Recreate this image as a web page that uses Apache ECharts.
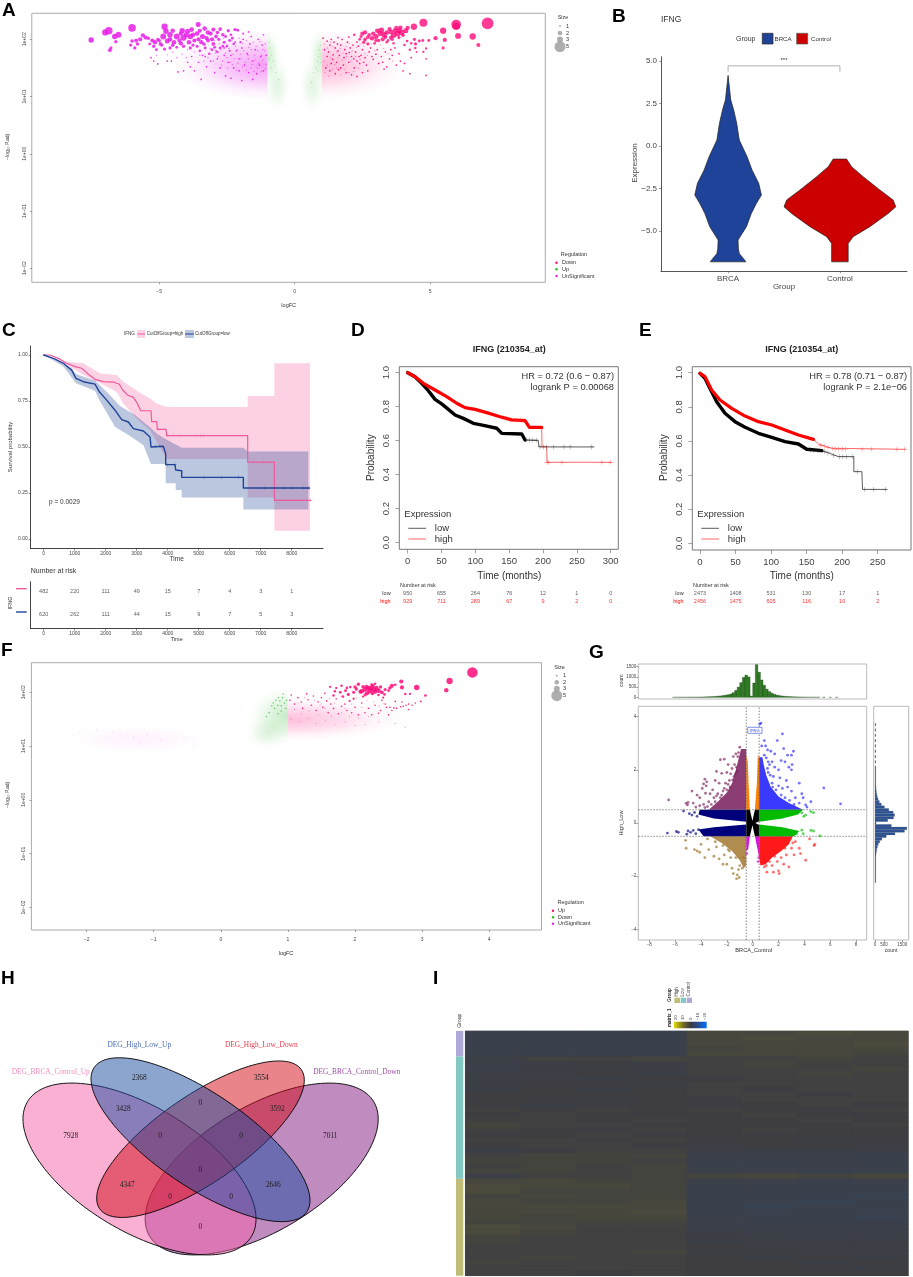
<!DOCTYPE html>
<html>
<head>
<meta charset="utf-8">
<style>html,body{margin:0;padding:0;background:#fff}#main{width:913px;height:1277px}</style>
<script src="https://cdn.jsdelivr.net/npm/echarts@6/dist/echarts.min.js"></script>
</head>
<body>
<div id="main"></div>
<script>
// ---- A: volcano BRCA vs control. y values are log10 of the P.adj axis
const aTicksX = [-5, 0, 5];
const logTicks = [-2, -1, 0, 1, 2];
// x, log10 y, size
const aDownBig = [[7.12,2.28,5.6],[5.96,2.26,4.6],[5.96,2.23,3.6],[4.75,2.29,3.8],[5.48,2.15,3],[6.03,2.06,2.8],[6.57,2.05,3],[4.4,2.22,3],[5.2,2.02,2],[5.54,1.99,2],[6.78,1.9,1.9],[5.48,1.85,1.5],[4.73,1.98,1.4],[4.6,1.97,1.4],[4.42,2,1.5],[4.46,1.92,1.5],[4.17,2.2,2],[4.1,2.15,2.4],[3.9,2.2,2.2],[3.75,2.2,2],[3.95,2.12,2.6],[3.8,2.1,2.8],[3.65,2.07,2.6],[3.55,2.13,2.2],[3.4,2.12,2.2],[3.3,2.08,2.6],[3.15,2.1,2.4],[3.05,2.15,2.2],[3.2,2.16,2.6],[3,2.05,2.4],[2.9,2.1,2],[2.85,2.02,2.2],[3.35,2.04,1.8],[3.55,2.03,1.8],[2.7,2.04,1.8],[2.6,2,1.8],[2.55,1.95,1.6],[2.5,2.1,2.1],[2.6,2.12,2],[2.7,1.92,1.5],[2.4,2,1.3],[2.2,2.08,1.2],[2.95,1.93,1.4],[3.1,1.98,1.6],[3.85,2.03,1.5],[4.15,1.97,1.3],[4.3,1.93,1.2],[4.05,1.9,1.2],[4.45,1.85,1.2],[4.25,1.82,1.2],[4.85,1.84,1.1],[4.75,1.78,1.1],[4.95,1.98,1.4],[3.65,1.93,1.2],[3.45,1.98,1.3],[3.5,2.18,2],[3.7,2.15,2.3],[3.25,2,2],[3,1.98,1.6],[3.85,2.15,2.3],[3.6,2,1.6],[3.4,1.95,1.3],[2.75,2.08,1.7],[2.45,2.05,1.5],[4,2.07,1.7]];
const aDownSmall = [[1.2,1.97],[1.35,2],[1.3,1.9],[1.5,1.85],[1.45,1.95],[1.6,1.8],[1.7,1.9],[1.75,2],[1.85,1.82],[1.9,1.75],[1.95,1.95],[2.05,1.85],[2.1,1.7],[2.15,1.9],[2.25,1.78],[2.3,1.62],[2.35,1.88],[2.45,1.72],[2.5,1.82],[2.6,1.68],[2.65,1.55],[2.75,1.78],[2.8,1.85],[2.9,1.65],[3,1.74],[3.05,1.82],[3.2,1.7],[3.25,1.6],[3.35,1.78],[3.4,1.52],[3.5,1.66],[3.6,1.72],[3.7,1.85],[3.75,1.55],[3.9,1.62],[4,1.45],[4.3,1.68],[4.5,1.78],[4.85,1.66],[1.2,1.7],[1.4,1.65],[1.55,1.6],[1.65,1.72],[1.8,1.55],[2,1.6],[2.2,1.5],[2.4,1.58],[1.15,1.5],[1.3,1.45],[1.5,1.4],[1.7,1.5],[1.9,1.42],[2.1,1.38],[2.3,1.35],[2.7,1.45],[1.1,1.82],[1.25,1.78],[1.42,1.73],[1.58,1.92],[1.82,1.68],[2.02,1.77],[2.18,1.66],[2.38,1.7],[2.55,1.6],[2.85,1.7],[3.1,1.58],[3.3,1.48],[3.55,1.82],[3.85,1.75],[4.05,1.58],[4.25,1.4],[4.85,1.37],[1.05,2.02],[1.6,2.03],[2,2.04],[2.3,1.95],[1.35,1.58],[1.62,1.47],[2.5,1.42]];
const aDownPale = [[1.1,1.92],[1.2,1.85],[1.32,1.95],[1.42,1.87],[1.55,1.78],[1.68,1.84],[1.78,1.76],[1.9,1.87],[2.02,1.93],[2.12,1.8],[2.28,1.86],[2.42,1.92],[2.55,1.88],[2.68,1.72],[2.82,1.92],[2.95,1.8],[3.15,1.9],[3.28,1.84],[3.45,1.75],[3.62,1.62],[1.08,1.62],[1.2,1.55],[1.33,1.68],[1.47,1.56],[1.6,1.68],[1.75,1.63],[1.92,1.7],[2.08,1.62],[2.25,1.7],[2.42,1.65],[2.6,1.75],[1.12,1.42],[1.25,1.36],[1.4,1.48],[1.55,1.5],[1.7,1.38],[1.85,1.48],[2,1.42],[2.18,1.44],[2.35,1.5]];
const aSigBig = [[-7.51,1.99,2.6],[-6.99,2.12,3],[-6.86,2.15,3.6],[-6,2.2,3.6],[-6.64,2.05,2.6],[-6.5,2.08,2.8],[-6.6,1.96,1.6],[-6.82,1.81,1.8],[-6.78,1.85,1.5],[-4.8,2.22,3],[-3.56,2.26,2.4],[-3.32,2.19,2.2],[-4.5,2.15,2.2],[-4.75,2.14,2.6],[-4.15,2.15,2.6],[-3.95,2.14,2.4],[-3.8,2.17,2.2],[-4.85,2.05,2.8],[-4.6,2.08,2.6],[-4.35,2.05,2.8],[-4.1,2.03,3],[-3.85,2.05,2.6],[-3.6,2.1,2.2],[-3.4,2.05,2.4],[-3.1,2.1,2],[-3,2.17,2],[-2.75,2.18,1.8],[-2.45,2.15,1.6],[-2.2,2.17,1.6],[-2.1,2.16,1.4],[-5.6,2.07,2],[-5.5,2.03,2],[-5.7,2,2],[-5.85,1.98,1.9],[-6,1.97,1.7],[-5.8,1.92,1.7],[-6.05,1.9,1.6],[-5.9,1.85,1.6],[-5.25,1.98,2],[-5.15,1.95,2.1],[-5,1.98,1.7],[-5.2,1.88,1.6],[-5.1,1.82,1.4],[-4.9,1.9,1.6],[-4.7,1.97,2.4],[-4.45,1.95,2.2],[-4.2,1.93,2.1],[-3.9,1.95,2.2],[-3.7,1.98,2],[-3.45,1.95,2],[-3.2,1.98,1.8],[-3,1.92,1.8],[-2.8,2,1.6],[-2.6,1.95,1.5],[-2.4,1.98,1.4],[-4.6,1.85,1.5],[-4.8,1.83,1.5],[-4.35,1.86,1.4],[-3.6,1.88,1.5],[-3.3,1.85,1.4],[-3.05,1.82,1.4],[-2.75,1.85,1.3],[-2.5,1.88,1.2],[-2.25,1.92,1.2],[-2,1.95,1.1],[-4.2,2.1,2],[-3.25,2.02,2],[-2.9,2.05,1.8],[-2.55,2.05,1.4],[-3.75,1.9,1.6],[-3.5,1.8,1.3],[-3.15,1.75,1.2],[-2.85,1.78,1.2],[-2.4,1.8,1.1],[-4.95,1.92,1.8],[-4.6,2,2.2],[-4.25,1.98,2],[-4,2.08,2.4],[-3.75,2.08,2.2],[-3.5,2.15,2],[-3.2,2.12,2.2],[-3.05,2,2],[-2.85,2.12,1.7],[-2.65,2.08,1.7],[-2.35,2.08,1.3],[-3.55,2,2],[-3.35,1.92,1.7],[-3.85,1.85,1.5],[-4.1,1.88,1.6],[-4.5,1.9,1.8],[-2.95,1.86,1.4],[-2.65,1.88,1.3],[-2.3,2.02,1.3],[-5.4,2.02,1.6],[-5.05,2,1.6],[-5.35,1.92,1.4],[-1.9,2.1,1],[-1.7,2.13,.9]];
const aSigSmall = [[-5.3,1.68],[-5.2,1.62],[-5.05,1.57],[-4.7,1.62],[-4.55,1.62],[-4.3,1.43],[-4.1,1.45],[-3.95,1.6],[-3.85,1.52],[-3.8,1.7],[-3.7,1.45],[-3.55,1.6],[-3.45,1.3],[-3.4,1.72],[-3.25,1.52],[-3.1,1.62],[-2.95,1.42],[-2.85,1.66],[-2.75,1.5],[-2.6,1.72],[-2.55,1.36],[-2.45,1.6],[-2.35,1.72],[-2.25,1.5],[-2.15,1.8],[-2.05,1.66],[-1.95,1.85],[-1.85,1.55],[-1.75,1.75],[-1.65,1.92],[-1.55,1.62],[-1.45,1.82],[-1.35,2],[-1.3,1.55],[-1.2,1.9],[-1.15,2.08],[-1.05,1.72],[-2.9,1.8],[-3.3,1.7],[-2.2,1.95],[-2.6,1.85],[-1.9,2],[-1.6,2.05],[-2.05,1.45],[-1.7,1.42],[-1.4,1.4],[-1.25,1.7],[-2.35,1.32],[-1.95,1.28],[-1.55,1.3],[-1.15,1.45]];
const aSigPale = [[-2.95,1.98],[-2.78,1.92],[-2.62,2.02],[-2.48,1.9],[-2.32,1.97],[-2.18,1.88],[-2.05,2.02],[-1.92,1.93],[-1.78,1.98],[-1.68,1.86],[-1.52,1.95],[-1.42,1.88],[-1.28,1.96],[-1.18,1.82],[-1.08,1.92],[-3.3,1.9],[-3.12,1.84],[-2.92,1.76],[-2.72,1.82],[-2.55,1.76],[-2.42,1.84],[-2.28,1.74],[-2.12,1.82],[-2,1.74],[-1.88,1.8],[-1.72,1.72],[-1.6,1.82],[-1.48,1.72],[-1.36,1.8],[-1.22,1.72],[-1.1,1.8],[-3.2,1.68],[-3,1.62],[-2.82,1.7],[-2.66,1.62],[-2.5,1.68],[-2.38,1.6],[-2.22,1.66],[-2.1,1.58],[-1.98,1.66],[-1.82,1.6],[-1.7,1.66],[-1.58,1.56],[-1.46,1.64],[-1.32,1.58],[-1.18,1.64],[-1.06,1.56],[-2.7,1.55],[-2.48,1.5],[-2.3,1.56],[-2.15,1.46],[-1.92,1.52],[-1.78,1.46],[-1.62,1.5],[-1.5,1.44],[-1.38,1.5],[-1.22,1.44],[-1.08,1.48],[-4.5,1.78],[-4.15,1.74],[-3.95,1.82],[-3.7,1.78],[-3.5,1.72],[-3.35,1.62],[-4.35,1.68],[-4.7,1.73],[-5.1,1.72],[-4,1.68]];
const aUpDots = [[-.95,1.95],[-.9,1.85],[-.85,1.72],[-.8,1.62],[-.95,1.65],[-.72,1.55],[-.68,1.42],[-.85,1.5],[-.6,1.3],[.95,1.9],[.9,1.82],[.88,1.7],[.84,1.62],[.95,1.6],[.78,1.5],[.7,1.42],[.87,1.45],[.62,1.25]];
// faint density clouds: centre x, centre y, reach in x, reach in y
const aDownCloud = [1,1.55,3.1,.62];
const aSigCloud = [-1,1.55,3.5,.62];
const aUpTopL = [-1,1.7,.5,.5];
const aUpLowL = [-.65,1.2,.5,.5];
const aUpTopR = [1,1.7,.5,.5];
const aUpLowR = [.65,1.2,.5,.5];

// ---- F: volcano High vs Low
const fTicksX = [-2, -1, 0, 1, 2, 3, 4];
const fUpBig = [[3.75,2.37,5],[3.41,2.21,3],[3.36,2.04,2.1],[2.69,2.2,2],[2.7,2.09,2],[2.92,2.09,2.6],[3.05,1.94,1.3],[2.98,1.83,.9],[2.55,2.12,2],[2.82,1.97,1.1],[2.75,1.97,1.2],[2.45,2.05,1.5],[2.38,2.1,1.6],[2.32,2.08,2.1],[2.3,2.01,2],[2.27,2.12,1.6],[2.22,2.03,2.4],[2.2,2.08,2.1],[2.18,1.98,2],[2.15,2.05,2.2],[2.12,2.1,1.7],[2.08,2.01,1.8],[2.05,2.15,1.6],[2.02,2.06,1.6],[1.98,2,1.5],[1.93,2.1,1.2],[1.9,1.96,1.5],[1.86,2.03,1.4],[1.82,1.92,1.3],[1.78,2,1.3],[1.72,2.08,1.1],[1.68,1.94,1.2],[1.63,2.1,1.1],[2.25,2.14,1.4],[2.35,1.95,1.2],[2.42,1.9,1],[2.5,2.03,1.3],[2.6,2.14,1.3],[2.3,2.16,1.2],[1.98,1.88,1.1],[1.92,1.84,1],[2.12,1.92,1.1],[2.1,2.02,2.2],[2.17,2.1,2],[2.24,2.08,2.4],[2.28,2.05,2.4],[2.35,2.03,2.2],[2.26,1.98,1.8],[2.4,2,1.8],[2.44,1.96,1.3],[2,2.1,1.6],[1.88,2.08,1.3],[1.8,2.12,1.2],[1.7,2.02,1.2],[2.52,2.08,1.6],[2.15,1.95,1.4]];
const fUpSmall = [[1.03,1.85],[1.05,1.95],[1.1,1.78],[1.15,1.9],[1.2,1.82],[1.22,1.7],[1.28,1.97],[1.3,1.86],[1.35,1.76],[1.38,1.93],[1.42,1.66],[1.45,1.82],[1.5,1.9],[1.52,1.72],[1.55,1.98],[1.58,1.84],[1.6,1.62],[1.64,1.78],[1.68,1.7],[1.72,1.88],[1.75,1.6],[1.8,1.74],[1.85,1.78],[1.88,1.66],[2,1.72],[2.05,1.58],[2.1,1.8],[2.2,1.7],[2.25,1.58],[2.3,1.76],[2.38,1.66],[2.45,1.78],[2.47,1.72],[2.52,1.72],[2.58,1.71],[2.62,1.7],[2.68,1.73],[2.72,1.74],[2.76,1.76],[2.8,1.78],[2.85,1.76],[2.6,1.83],[2.7,1.82],[2.55,1.66],[2.35,1.61],[2.15,1.62],[1.95,1.62],[2.8,1.68],[2.9,1.8],[2.4,1.85],[2.5,1.58]];
const fUpPale = [[1.15,1.8],[1.25,1.9],[1.4,1.85],[1.48,1.76],[1.62,1.88],[1.7,1.8],[1.78,1.93],[1.85,1.7],[1.95,1.78],[2.03,1.9],[2.1,1.72],[2.18,1.85],[2.28,1.82],[2.36,1.74],[2.42,1.8],[1.1,1.68],[1.2,1.6],[1.32,1.65],[1.45,1.58],[1.55,1.7],[1.65,1.55],[1.8,1.62],[1.92,1.55],[2.05,1.52],[2.2,1.55],[1.05,1.5],[1.18,1.45],[1.3,1.52],[1.42,1.42],[1.56,1.48],[1.7,1.4],[1.85,1.45],[2,1.38],[2.15,1.4],[2.35,1.45],[2.6,1.42],[2.75,1.35]];
const fDownDots = [[.95,1.8],[.92,1.9],[.88,1.84],[.85,1.76],[.82,1.85],[.8,1.7],[.76,1.75],[.9,1.65],[.72,1.62],[.97,1.7],[.93,1.97],[.68,1.55],[.85,1.6],[.9,1.75],[.78,1.8],[.98,1.85],[.86,1.9]];
const fPaleDots = [[-2.1,1.25],[-1.85,1.3],[-1.6,1.27],[-1.5,1.2],[-1.3,1.17],[-1.1,1.22],[-.9,1.12],[-.7,1.07],[-1.7,1.15],[-1.2,1.05],[-.55,1.15],[-.4,1]];
const fUpCloud = [1,1.5,1.75,.42];
const fDownTop = [1,1.55,.6,.55];
const fDownLow = [.68,1.25,.32,.32];
const fSigCloud = [-1.25,1.13,1.15,.28];

// ---- B: violin outline, expression level and half width in group units
const bGroups = ['BRCA', 'Control'];
const bTicksY = [-5, -2.5, 0, 2.5, 5];
const bLevelsBrca = [4.16,2.71,2.12,1.34,.35,-.63,-1.41,-2.2,-2.89,-3.38,-3.97,-4.75,-5.54,-6.03,-6.33,-6.82];
const bWidthBrca = [0,.024,.05,.077,.1,.17,.214,.274,.298,.253,.208,.164,.089,.092,.1,.16];
const bLevelsCtrl = [-.77,-1.22,-1.81,-2.59,-3.18,-3.58,-3.97,-4.75,-5.34,-5.74,-6.33,-6.82];
const bWidthCtrl = [.06,.104,.208,.357,.476,.5,.432,.268,.119,.074,.074,.074];

// ---- C: TCGA survival curves
const cTimes = [0,1000,2000,3000,4000,5000,6000,7000,8000];
const cTicksY = [0,.25,.5,.75,1];
const cHigh = [[0,1],[204,1],[473,.982],[742,.955],[1011,.937],[1226,.928],[1409,.9],[1656,.868],[1925,.855],[2247,.853],[2441,.841],[2548,.81],[2699,.783],[2892,.77],[3022,.737],[3129,.697],[3462,.697],[3484,.638],[3645,.638],[3667,.596],[3946,.596],[3968,.562],[6581,.562],[6581,.418],[7441,.418],[7441,.21],[8613,.21]];
const cLow = [[0,1],[312,.982],[634,.955],[903,.918],[1043,.873],[1280,.855],[1656,.842],[1796,.8],[2032,.755],[2301,.7],[2516,.649],[2731,.636],[2892,.6],[3215,.587],[3430,.554],[3462,.5],[3860,.504],[3935,.464],[3935,.404],[4237,.404],[4258,.375],[4452,.371],[4452,.335],[6441,.335],[6441,.277],[8570,.277]];
const cHighUpper = [[0,1],[742,.964],[1280,.955],[1817,.9],[2355,.891],[2570,.855],[2892,.819],[3108,.795],[3430,.764],[3645,.737],[3968,.717],[6581,.717],[6581,.777],[7441,.777],[7441,.955],[8591,.955]];
const cHighLower = [[0,1],[742,.946],[1280,.891],[1817,.846],[2355,.8],[2570,.737],[2892,.674],[3161,.629],[3430,.592],[3645,.529],[3968,.435],[6581,.435],[6581,.226],[7441,.226],[7441,.045],[8591,.045]];
const cLowUpper = [[0,1],[903,.928],[1043,.897],[1656,.861],[2032,.8],[2462,.723],[2946,.674],[3430,.607],[3645,.574],[3946,.542],[4452,.496],[6441,.496],[6570,.475],[8538,.475]];
const cLowLower = [[0,1],[634,.937],[1043,.846],[1656,.806],[1796,.755],[2301,.61],[2731,.565],[3215,.511],[3462,.408],[3935,.408],[3935,.303],[4258,.303],[4258,.266],[4452,.266],[4452,.225],[6441,.225],[6441,.161],[8538,.161]];
const cHighCensor = [[3700,.596],[4000,.562],[4200,.562],[4400,.562],[4935,.562],[5050,.562],[5150,.562],[7100,.418],[8613,.21]];
const cLowCensor = [[3600,.504],[3750,.504],[4000,.404],[4237,.404],[5172,.335],[5742,.335],[6290,.335],[7118,.277],[7763,.277],[8000,.277],[8376,.277],[8538,.277]];
const cRiskHigh = [482,220,111,49,15,7,4,3,1];
const cRiskLow = [620,262,111,44,15,9,7,5,3];

// ---- D, E: KM plotter curves
const kmTicksY = [0,.2,.4,.6,.8,1];
const dTicksX = [0,50,100,150,200,250,300];
const dLow = [[0,1],[10.8,.976],[20.7,.937],[30.5,.894],[40.4,.843],[50.2,.816],[60.1,.784],[70,.751],[82.3,.731],[97,.702],[112,.69],[131.6,.673],[139,.643],[168.5,.639],[173.4,.604],[193,.6],[194,.563],[275,.563]];
const dHigh = [[0,1],[10.8,.976],[23.2,.937],[40.4,.898],[57.6,.859],[72.4,.82],[84.7,.794],[99.5,.784],[116.7,.765],[136.5,.741],[153.7,.722],[173.4,.718],[179.8,.678],[198,.678],[198.5,.565],[205.4,.565],[205.9,.473],[300,.473]];
const dLowCensor = [[175,.604],[180,.604],[185,.604],[190,.604],[195.6,.563],[201,.563],[205,.563],[215,.563],[231,.563],[240,.563],[272,.563]];
const dHighCensor = [[140,.735],[146,.73],[152,.722],[160,.72],[167,.72],[172,.718],[206,.473],[208,.473],[228,.473],[287,.473],[300,.473]];
const dRiskLow = [950,655,264,76,12,1,0];
const dRiskHigh = [929,711,289,67,9,2,0];
const eTicksX = [0,50,100,150,200,250];
const eLow = [[0,.996],[7,.967],[14.1,.908],[23.5,.83],[35.2,.762],[49.3,.713],[63.4,.68],[82.2,.645],[101,.621],[119.7,.596],[138.5,.582],[150.2,.551],[171.4,.543],[185.4,.523],[194.8,.508],[216.4,.508],[216.4,.42],[227.7,.42],[228.6,.316],[262.9,.316]];
const eHigh = [[0,.996],[7,.977],[16.4,.898],[28.2,.84],[44.6,.791],[63.4,.746],[82.2,.713],[101,.693],[119.7,.664],[138.5,.635],[159.6,.609],[166.6,.582],[185.4,.557],[288.7,.551]];
const eLowCensor = [[155,.548],[160,.546],[166,.544],[175,.538],[180,.53],[188,.515],[196,.508],[201,.508],[206,.508],[214,.508],[221.6,.42],[231,.316],[244,.316],[260.6,.316]];
const eHighCensor = [[170,.575],[175,.57],[180,.563],[186,.555],[190,.553],[195,.553],[200,.552],[205,.552],[228,.552],[241,.552],[277,.551],[288,.551]];
const eRiskLow = [2473,1408,531,130,17,1];
const eRiskHigh = [2456,1475,605,116,10,2];

// ---- G: scatter of the two contrasts with its marginal histograms
const gTicksX = [-8,-6,-4,-2,0,2,4,6,8];
const gTicksY = [-4,-2,0,2,4];
const gTopTicks = [0,500,1000,1500];
const gRightTicks = [0,500,1000,1500];
const gTopBins = [[-6.1,3],[-5.9,3],[-5.7,4],[-5.5,4],[-5.3,5],[-5.1,6],[-4.9,7],[-4.7,8],[-4.5,9],[-4.3,11],[-4.1,13],[-3.9,16],[-3.7,20],[-3.5,25],[-3.3,30],[-3.1,36],[-2.9,45],[-2.7,55],[-2.5,68],[-2.3,85],[-2.1,105],[-1.9,125],[-1.7,160],[-1.5,230],[-1.3,340],[-1.1,500],[-.9,720],[-.7,980],[-.5,1090],[-.3,1000],[-.1,60],[.1,700],[.3,1600],[.5,1230],[.7,850],[.9,590],[1.1,400],[1.3,280],[1.5,200],[1.7,145],[1.9,105],[2.1,80],[2.3,62],[2.5,50],[2.7,40],[2.9,32],[3.1,26],[3.3,22],[3.5,18],[3.7,14],[3.9,11],[4.1,9],[4.3,7],[4.5,6],[4.7,5],[4.9,4],[5.1,3],[5.5,3],[6,2],[6.5,2]];
const gRightBins = [[3.7,4],[3.5,5],[3.3,6],[3.1,7],[2.9,8],[2.7,10],[2.5,12],[2.3,14],[2.1,17],[2,20],[1.9,24],[1.8,28],[1.7,33],[1.6,38],[1.5,44],[1.4,50],[1.3,60],[1.2,75],[1.1,95],[1,125],[.9,170],[.8,240],[.7,350],[.6,520],[.5,760],[.4,1000],[.3,1080],[.2,1020],[.1,700],[0,60],[-.1,900],[-.2,1750],[-.3,1620],[-.4,1100],[-.5,620],[-.6,380],[-.7,260],[-.8,180],[-.9,130],[-1,95],[-1.1,72],[-1.2,55],[-1.3,44],[-1.4,35],[-1.5,28],[-1.6,22],[-1.7,18],[-1.8,14],[-1.9,11],[-2,8],[-2.1,6],[-2.2,4]];
const gMaroonArea = [[-.5,.5],[-3.4,.5],[-2.6,.85],[-2,1.15],[-1.6,1.5],[-1.3,2],[-1.1,2.4],[-.9,2.78],[-.5,2.78]];
const gBlueArea = [[.5,.5],[3.9,.5],[2.8,.75],[2,1],[1.4,1.35],[1.05,1.8],[.85,2.2],[.75,2.47],[.5,2.47]];
const gRedArea = [[.5,-.5],[3.1,-.5],[2.8,-.8],[2.2,-1.05],[1.5,-1.3],[1,-1.55],[.6,-1.6],[.5,-1.3]];
const gBrownArea = [[-.5,-.5],[-3.3,-.5],[-2.4,-.75],[-1.6,-1.05],[-1,-1.4],[-.7,-1.7],[-.5,-1.6]];
const gNavyUpper = [[-.5,.5],[-4.1,.5],[-4.2,.32],[-3,.17],[-.5,.05]];
const gNavyLower = [[-.5,-.06],[-3,-.16],[-4.2,-.24],[-3.8,-.5],[-.5,-.5]];
const gGreenUpper = [[.5,.5],[3.9,.5],[3.5,.32],[2.3,.17],[.5,.05]];
const gGreenLower = [[.5,-.06],[2.3,-.16],[3.6,-.3],[3.2,-.5],[.5,-.5]];
const gBlackArea = [[-.5,.5],[-.22,.5],[-.02,.08],[.17,.5],[.5,.5],[.5,.07],[.2,0],[.5,-.07],[.5,-.5],[.17,-.5],[-.02,-.08],[-.22,-.5],[-.5,-.5],[-.5,.06],[-.3,0],[-.5,-.06]];
const gOrangeLeft = [[-.5,.5],[-.22,.5],[-.32,1.5],[-.38,2.3],[-.5,2.55]];
const gOrangeRight = [[.17,.5],[.5,.5],[.5,2.4],[.4,2.6],[.32,1.5]];
const gMagentaLeft = [[-.5,-.5],[-.22,-.5],[-.35,-1],[-.5,-1.05]];
const gMagentaRight = [[.17,-.5],[.5,-.5],[.5,-1.3],[.38,-1]];
const gMaroon = [[-6.5,.87],[-5.15,.74],[-5.05,.68],[-5,.78],[-4.7,1.2],[-4.3,1.05],[-4.1,.95],[-3.9,1.3],[-3.8,1.47],[-3.7,1.65],[-3.6,1.4],[-3.55,1.55],[-3.65,1.12],[-3.3,1.1],[-3.1,1.25],[-3,.95],[-2.8,1.94],[-2.9,1.6],[-2.5,2.38],[-2.6,1.5],[-2.4,1.87],[-2.2,2.4],[-2.3,1.2],[-2,1.9],[-2.1,1.5],[-1.9,2.2],[-1.8,1.6],[-1.6,2.05],[-1.5,2.5],[-1.4,2.2],[-1.3,2.6],[-1.2,1.95],[-1.1,2.65],[-3.4,.8],[-3.8,.7],[-4.4,.6],[-4.6,.75],[-2.7,1.1],[-2.5,.95],[-2,1.25],[-1.7,1.85],[-1.45,1.75],[-3.5,.62],[-3.2,.7],[-2.9,.8],[-2.8,1.02],[-2.4,1.05],[-2.2,1.3],[-1.9,1.45],[-1.75,1.35],[-1.55,1.62],[-1.35,1.85],[-1.25,2.1],[-1.15,2.5],[-1,2.85],[-4.1,.65],[-3.7,.58]];
const gBlue = [[.64,3.76],[.55,3.72],[.9,3.1],[.7,2.9],[1,2.9],[1.15,2.75],[1.4,2.7],[1.7,2.6],[1.9,3.1],[2.3,3.35],[2.4,2.8],[2.7,2.55],[3,2.55],[3.15,2.7],[3.05,2.2],[3,2],[2.8,2.1],[2.5,2.3],[2.2,2.35],[2,2],[1.7,2.1],[1.5,2.3],[1.3,2.2],[1.2,1.9],[1.6,1.75],[2.1,1.7],[2.6,1.6],[2.7,1.35],[3.6,1.5],[3.8,1.1],[3.9,.95],[4.2,.6],[4.5,.8],[5.5,1.32],[6.8,.72],[4.1,.68],[3.3,.95],[3,1.2],[2.3,1.3],[2,1.4],[3.6,.75],[3.2,.7],[1.05,2.45],[.9,2.55],[1.2,2.3],[1.35,1.8],[1.5,1.5],[1.8,1.25],[2.2,1.05],[2.5,.95],[2.85,.85],[1.15,2.05],[1.55,1.35]];
const gNavy = [[-6.6,-.38],[-5.9,-.32],[-5.75,-.35],[-5.35,.45],[-4.9,.35],[-4.7,.3],[-4.5,.4],[-4.3,.25],[-5,-.3],[-4.8,-.35],[-4.6,-.28],[-4.4,-.4],[-4.2,-.25],[-5.1,-.42]];
const gGreen = [[5.2,-.48],[4.7,-.3],[4.5,-.28],[4.5,.43],[4.7,.39],[3.8,.38],[3.95,.25],[3.8,-.27],[3.4,-.4],[4.1,.3],[3.9,-.4]];
const gBrown = [[-5.2,-.65],[-5.15,-.95],[-4.5,-1],[-4.3,-1.05],[-4.1,-1.1],[-4,-.8],[-3.7,-1.3],[-3.4,-1],[-3,-1.25],[-2.8,-.9],[-2.6,-1.35],[-2.3,-1.55],[-2.2,-1.2],[-2,-1.55],[-1.9,-1],[-1.7,-1.3],[-1.6,-1.7],[-1.5,-1.9],[-1.25,-2.1],[-1.2,-1.95],[-1.05,-2.05],[-1.1,-1.75],[-1,-1.6],[-.8,-1.7],[-.7,-1.3],[-3.5,-.6],[-2.9,-.7],[-2.3,-.85],[-1.8,-1.05],[-1.3,-1.3]];
const gRed = [[4.8,-.8],[4.75,-.85],[4.4,-.6],[4.1,-1.4],[3.7,-1.15],[3.6,-.95],[3.2,-1.2],[3.1,-.75],[2.8,-1.65],[2.6,-1.2],[2.4,-1.55],[2,-1.8],[2.05,-1.9],[1.6,-1.85],[1.9,-1.45],[1.5,-1.6],[1.1,-1.85],[1.05,-1.6],[.9,-1.65],[2.2,-1.3],[3,-.95],[2.5,-.95],[1.7,-1.25],[1.3,-1.45],[2.9,-.6],[3.3,-.7]];
const gMagenta = [[-.45,-1.15],[.42,-1.45],[.46,-1.3]];

// ---- H: Venn counts
const vennSets = ['DEG_BRCA_Control_Up','DEG_High_Low_Up','DEG_High_Low_Down','DEG_BRCA_Control_Down'];
const vennCounts = [7928,2368,3554,7011,3428,0,3592,0,0,4347,0,2646,0,0,0];

// ---- I: heat map, rows top to bottom, four left and four right column blocks
const iGroups = ['Control','Low','High'];
const iGroupRows = [5,24,19];
const iMatrix = [
[-1.2,-1.2,-1.2,-1.2,1.2,1.2,1.6,1.2],[-1.2,-1.2,-.8,-1.2,1.2,1.6,1.2,1.2],[-1.2,-.8,-1.2,-1.2,1.2,1.2,1.2,1.6],[-1.2,-1.2,-1.2,-.8,.8,1.2,1.2,1.2],[-.8,-1.2,-.8,-1.2,1.2,1.2,1.2,.8],
[-.4,.4,.4,.8,.4,.4,.8,.4],[-.8,-.4,0,-.4,.4,.8,.4,.4],[-.8,-.4,-.4,-.4,.4,.4,.4,.8],[-.4,-.4,0,-.4,.4,.4,.8,.4],[-.4,-.4,-.4,0,0,.4,.4,.4],
[-.4,0,0,-.4,.4,.4,.4,.4],[-.4,0,-.4,0,.4,0,.4,.4],[0,0,0,0,.4,.4,0,.4],[0,0,-.4,0,0,.4,.4,.4],[0,-.4,0,0,0,0,.4,0],
[.4,0,.4,0,.4,0,0,.4],[0,.4,0,0,0,.4,0,0],[.4,.4,0,.4,0,0,.4,0],[.8,.4,.4,0,0,0,0,.4],[.4,0,0,.4,0,.4,0,0],
[0,0,.4,0,0,0,0,0],[.4,.4,0,.4,0,0,-.4,0],[0,.4,.4,0,-.4,0,0,-.4],[-.4,0,.4,.4,-.4,-.4,-.4,-.4],[.4,.8,.8,.8,-.8,-.8,-.8,-1.2],
[.8,.8,.8,.4,-.8,-1.2,-.8,-1.2],[.4,.8,.4,.8,-1.2,-.8,-.8,-.8],[.8,.8,.4,.8,-.8,-.8,-1.2,-1.2],[-.4,.4,.4,.8,.8,1.2,.8,1.2],
[1.2,1.2,.8,.8,-.8,-.8,-1.2,-.8],[1.6,1.2,1.2,.8,-1.2,-.8,-.8,-1.2],[1.6,.8,.8,.8,-1.2,-1.2,-1.2,-1.2],[.8,1.2,.8,.8,-1.2,-1.2,-1.2,-1.6],[1.2,.8,.8,1.2,-1.2,-1.2,-1.6,-1.2],
[1.2,1.2,1.2,1.2,-1.2,-1.6,-1.2,-1.2],[1.2,1.2,1.2,1.6,-1.2,-1.2,-1.2,-1.2],[1.2,.8,1.2,1.2,-.8,-1.2,-1.2,-1.6],[.8,.8,.8,.8,-.8,-.8,-1.2,-1.2],[1.6,1.2,.4,.4,-.8,-.8,-.8,-.8],
[1.6,.8,.4,.4,-.4,-.8,-.8,-.4],[.8,.4,.4,.4,-.4,-.4,-.8,-.8],[.8,.4,.4,.4,-.4,-.4,-.4,-.4],[.4,.4,.4,.4,0,-.4,-.4,-.4],[.4,.4,.4,.8,-.4,0,-.4,-.4],
[.4,.8,.4,.4,0,-.4,0,-.4],[.8,.4,.4,.4,0,0,-.4,0],[.4,.4,.4,.4,0,0,0,-.4],[.4,.4,0,.4,0,0,0,0]
];

// ---- plumbing
const sans = '"Liberation Sans", Arial, sans-serif';
const serif = '"Liberation Serif", serif';
const grids = [], xAxes = [], yAxes = [], series = [], gfx = [];

function label(x, y, s, o = {}) {
  const align = o.align || 'center';
  gfx.push({type: 'text', x: x, y: y, rotation: o.rot ? Math.PI / 2 : 0, z: 100, silent: true,
    style: {text: s, fill: o.color || '#333', font: (o.weight || 'normal') + ' ' + (o.size || 5.5) + 'px ' + (o.family || sans),
      align: align, textAlign: align, verticalAlign: 'middle', textVerticalAlign: 'middle'}});
}
function dot(x, y, r, color) {
  gfx.push({type: 'circle', z: 99, silent: true, shape: {cx: x, cy: y, r: r}, style: {fill: color}});
}
function box(x0, y0, x1, y1, fill, stroke) {
  gfx.push({type: 'rect', z: 98, silent: true, shape: {x: x0, y: y0, width: x1 - x0, height: y1 - y0}, style: {fill: fill, stroke: stroke || null, lineWidth: stroke ? .7 : 0}});
}
function seg(x0, y0, x1, y1, color, w) {
  gfx.push({type: 'line', z: 99, silent: true, shape: {x1: x0, y1: y0, x2: x1, y2: y1}, style: {stroke: color, lineWidth: w || 1}});
}
function addGrid(x0, y0, x1, y1, frame, frameWidth, background) {
  grids.push({left: x0, top: y0, width: x1 - x0, height: y1 - y0, show: !!frame, borderColor: frame || 'transparent', borderWidth: frameWidth || 1, backgroundColor: background || 'transparent'});
  return grids.length - 1;
}
function valueAxis(g, min, max, ticks, o = {}) {
  return {type: 'value', gridIndex: g, min: min, max: max, inverse: !!o.inverse, splitLine: {show: false},
    axisLine: {show: !!o.line, onZero: false, lineStyle: {color: o.line, width: o.lineWidth || 1}},
    axisTick: {show: !!ticks, customValues: ticks || [], length: o.tickLen || 2, lineStyle: {color: o.tickColor || '#666', width: o.tickWidth || .6}},
    axisLabel: {show: !!ticks && !o.noLabel, customValues: ticks || [], fontSize: o.size || 5, color: o.color || '#444', fontFamily: sans,
      margin: o.margin || 3, rotate: o.rot || 0, showMinLabel: true, showMaxLabel: true, formatter: o.fmt || (v => String(v).replace('-', '−'))}};
}
function polygon(g, pts, fill, extra) {
  series.push({type: 'custom', xAxisIndex: g, yAxisIndex: g, silent: true, data: [0], z: (extra && extra.z) || 2,
    renderItem: (p, api) => ({type: 'polygon', shape: {points: pts.map(q => api.coord(q))},
      style: Object.assign({fill: fill}, extra && extra.style)})});
}
// soft elliptical density patch, cut off on one side where the threshold line sits (side 0 keeps it whole)
function cloud(g, c, side, rgb, alpha) {
  const x0 = side > 0 ? 0 : -100, x1 = side < 0 ? 0 : 100;
  const fill = new echarts.graphic.RadialGradient(0, 0, 100, [
    {offset: 0, color: 'rgba(' + rgb + ',' + alpha + ')'},
    {offset: .45, color: 'rgba(' + rgb + ',' + alpha * .55 + ')'},
    {offset: .75, color: 'rgba(' + rgb + ',' + alpha * .15 + ')'},
    {offset: 1, color: 'rgba(' + rgb + ',0)'}], true);
  series.push({type: 'custom', xAxisIndex: g, yAxisIndex: g, silent: true, data: [0], z: 2,
    renderItem: (p, api) => {
      const o = api.coord([c[0], c[1]]), e = api.coord([c[0] + c[2], c[1] + c[3]]);
      return {type: 'polygon', x: o[0], y: o[1], scaleX: (e[0] - o[0]) / 100, scaleY: (o[1] - e[1]) / 100,
        shape: {points: [[x0, -100], [x1, -100], [x1, 100], [x0, 100]]}, style: {fill: fill}};
    }});
}
function dots(g, data, color, size, opacity) {
  series.push({type: 'scatter', xAxisIndex: g, yAxisIndex: g, data: data, silent: true, z: 3,
    symbolSize: size, itemStyle: {color: color, opacity: opacity == null ? 1 : opacity}});
}
function curve(g, data, color, width) {
  series.push({type: 'line', xAxisIndex: g, yAxisIndex: g, data: data, showSymbol: false, silent: true, z: 4,
    lineStyle: {color: color, width: width, cap: 'round', join: 'round'}});
}
const plusMark = 'path://M5.6 0H6.4V12H5.6ZM0 5.6H12V6.4H0Z';
function censor(g, data, color, size) {
  series.push({type: 'scatter', xAxisIndex: g, yAxisIndex: g, data: data, silent: true, z: 5, symbol: plusMark, symbolSize: size || 6, itemStyle: {color: color}});
}
function riskTable(g, times, rows, colors, size) {
  rows.forEach((row, r) => {
    series.push({type: 'scatter', xAxisIndex: g, yAxisIndex: g, silent: true, z: 5, symbolSize: 1, itemStyle: {color: 'rgba(0,0,0,0)'},
      data: row.map((n, i) => [times[i], r, n]),
      label: {show: true, position: 'inside', formatter: p => String(p.value[2]), fontSize: size, color: colors[r], fontFamily: sans}});
  });
}
function expTick(v) { return '1e' + (v < 0 ? '−' : '+') + '0' + Math.abs(v); }
const volcSize = d => d[2] * 2.1;

// ---- panel A
const gA = addGrid(31.8, 13.3, 545.3, 282.3, '#aaa');
xAxes.push(valueAxis(gA, -9.7, 9.25, aTicksX, {margin: 7}));
yAxes.push(valueAxis(gA, -2.245, 2.455, logTicks, {rot: 90, fmt: expTick, margin: 5}));
cloud(gA, aSigCloud, -1, '235,60,235', .5);
cloud(gA, aDownCloud, 1, '255,40,140', .34);
cloud(gA, aUpTopL, 1, '70,190,70', .26);
cloud(gA, aUpLowL, 0, '70,190,70', .16);
cloud(gA, aUpTopR, -1, '70,190,70', .26);
cloud(gA, aUpLowR, 0, '70,190,70', .16);
dots(gA, aUpDots, '#5ec85e', 1.2, .5);
dots(gA, aSigPale, '#ee44ee', 1.6, .6);
dots(gA, aSigSmall, '#e61ee6', 1.7, .9);
dots(gA, aSigBig, '#e61ee6', volcSize, .85);
dots(gA, aDownPale, '#ff3d95', 1.4, .55);
dots(gA, aDownSmall, '#ff0a7a', 1.7, .9);
dots(gA, aDownBig, '#ff0a7a', volcSize, .8);
label(294.7 - 6, 305, 'logFC', {size: 5.5});
label(8, 147, '−log₁₀ P.adj', {rot: 1, size: 5});
function sizeLegend(xc, xl, xt, ys, yTitle) {
  label(xt, yTitle, 'Size', {size: 5.5});
  [1, 2.3, 3, 5.5].forEach((r, i) => dot(xc, ys[i], r, 'rgba(160,160,160,.85)'));
  ['1', '2', '3', '5'].forEach((s, i) => label(xl, ys[i], s, {size: 5.5, align: 'left'}));
}
function regLegend(xc, xl, xt, ys, yTitle, names, colors) {
  label(xt, yTitle, 'Regulation', {size: 5.5});
  names.forEach((s, i) => { dot(xc, ys[i], 1.2, colors[i]); label(xl, ys[i], s, {size: 5.5, align: 'left'}); });
}
sizeLegend(560, 566, 563, [26, 33, 39.5, 46.7], 17.7);
regLegend(556.5, 562, 574, [262.7, 269.3, 276], 254, ['Down', 'Up', 'UnSignificant'], ['#ff0a7a', '#1fc21f', '#e61ee6']);
label(2, 10.5, 'A', {size: 19, weight: 'bold', align: 'left', color: '#000'});

// ---- panel B
const gB = addGrid(661, 56.7, 907, 271.3);
xAxes.push(valueAxis(gB, .4, 2.6, [1, 2], {line: '#555', size: 8, margin: 3, tickLen: 2, color: '#444', fmt: v => bGroups[v - 1]}));
yAxes.push(valueAxis(gB, -7.38, 5.26, bTicksY, {line: '#555', size: 8, margin: 4, tickLen: 2, color: '#444', fmt: v => v.toFixed(1).replace('-', '−')}));
function violin(center, levels, widths, fill) {
  const outline = levels.map((v, i) => [center - widths[i], v]).concat(levels.map((v, i) => [center + widths[i], v]).reverse());
  polygon(gB, outline, fill, {style: {stroke: '#222', lineWidth: .7}});
}
violin(1, bLevelsBrca, bWidthBrca, '#1f4398');
violin(2, bLevelsCtrl, bWidthCtrl, '#cc0000');
curve(gB, [[1, 4.4], [1, 4.72], [2, 4.72], [2, 4.4]], '#999', .8);
label(784, 60, '***', {size: 6});
label(661, 20, 'IFNG', {size: 8.5, align: 'left'});
label(736, 39, 'Group', {size: 7, align: 'left'});
box(762.3, 33.3, 773, 44, '#1f4398', '#222');
label(774.5, 38.8, 'BRCA', {size: 6.2, align: 'left'});
box(796.7, 33.3, 807.7, 44, '#cc0000', '#555');
label(811, 38.8, 'Control', {size: 6.2, align: 'left'});
label(784, 287, 'Group', {size: 8, color: '#444'});
label(635, 163, 'Expression', {rot: 1, size: 8, color: '#444'});
label(612, 17, 'B', {size: 19, weight: 'bold', align: 'left', color: '#000'});

// ---- panel C
const gC = addGrid(30.7, 346, 323, 548.7);
xAxes.push(valueAxis(gC, -419, 9010, cTimes, {line: '#444', tickColor: '#444', margin: 2, size: 5}));
yAxes.push(valueAxis(gC, -.0527, 1.049, cTicksY, {line: '#444', tickColor: '#444', margin: 3, size: 5, fmt: v => v.toFixed(2)}));
polygon(gC, cHighUpper.concat(cHighLower.slice().reverse()), 'rgba(240,90,155,.28)');
polygon(gC, cLowUpper.concat(cLowLower.slice().reverse()), 'rgba(30,70,150,.30)');
curve(gC, cHigh, '#ee5a9c', 1.2);
curve(gC, cLow, '#1f4398', 1.4);
censor(gC, cHighCensor, '#ee5a9c', 4);
censor(gC, cLowCensor, '#1f4398', 4);
label(176.7, 559.3, 'Time', {size: 6.5});
label(10, 447, 'Survival probability', {rot: 1, size: 6});
label(49, 502.7, 'p = 0.0029', {size: 6.5, align: 'left'});
label(124, 334, 'IFNG', {size: 4.5, align: 'left'});
box(137.3, 330, 145, 338, 'rgba(240,90,155,.28)');
seg(137.3, 334, 145, 334, '#ee5a9c', 1);
label(146.7, 334, 'CutOffGroup=high', {size: 4.5, align: 'left'});
box(185, 330, 194, 338, 'rgba(30,70,150,.30)');
seg(185, 334, 194, 334, '#1f4398', 1);
label(195, 334, 'CutOffGroup=low', {size: 4.5, align: 'left'});
label(2, 330.5, 'C', {size: 19, weight: 'bold', align: 'left', color: '#000'});
// at-risk table under C
const gCr = addGrid(30.7, 581.7, 323, 628.7);
xAxes.push(valueAxis(gCr, -419, 9010, cTimes, {line: '#444', tickColor: '#444', margin: 2, size: 5}));
yAxes.push(valueAxis(gCr, -.43, 1.59, null, {line: '#444', inverse: true}));
riskTable(gCr, cTimes, [cRiskHigh, cRiskLow], ['#333', '#333'], 5.5);
label(30.7, 571, 'Number at risk', {size: 7, align: 'left'});
seg(16, 588.7, 26.7, 588.7, '#ee5a9c', 1.4);
seg(16, 612, 26.7, 612, '#1f4398', 1.4);
label(10, 603, 'IFNG', {rot: 1, size: 5.5});
label(176.7, 639.3, 'Time', {size: 5.5});

// ---- panels D and E share their layout
function kmPanel(o) {
  const g = addGrid(o.x0, 366.7, o.x1, o.y1, '#777');
  const axisOpt = {tickColor: '#666', tickLen: 4, size: 9.5, color: '#444', margin: 7};
  xAxes.push(valueAxis(g, o.xr[0], o.xr[1], o.ticks, axisOpt));
  yAxes.push(valueAxis(g, -.039, 1.035, kmTicksY, Object.assign({}, axisOpt, {rot: 90, fmt: v => v.toFixed(1), margin: 7.5})));
  curve(g, o.low, '#333', .8);
  curve(g, o.low.slice(0, o.lowHeavy), '#000', 3.4);
  censor(g, o.lowCensor, '#333', 5);
  curve(g, o.high, '#ff4040', .8);
  curve(g, o.high.slice(0, o.highHeavy), '#ff0000', 3.2);
  censor(g, o.highCensor, '#ff3030', 5);
  const gr = addGrid(o.x0, 589.1, o.x1, 605.9);
  xAxes.push(valueAxis(gr, o.xr[0], o.xr[1], null));
  yAxes.push(valueAxis(gr, -.5, 1.5, null, {inverse: true}));
  riskTable(gr, o.ticks, [o.riskLow, o.riskHigh], ['#333', '#f00'], 5.5);
  label(o.titleX, 350, 'IFNG (210354_at)', {size: 9, weight: 'bold', color: '#222'});
  label(o.hrX, 376, o.hr, {size: 9.3, align: 'right', color: '#333'});
  label(o.hrX, 387.7, o.logrank, {size: 9.3, align: 'right', color: '#333'});
  label(o.titleX, 576.7, 'Time (months)', {size: 10, color: '#333'});
  label(o.probX, 457.7, 'Probability', {rot: 1, size: 10, color: '#333'});
  label(o.x0 + 5, 514.7, 'Expression', {size: 9.5, align: 'left', color: '#333'});
  seg(o.x0 + 9, 528.3, o.x0 + 26.7, 528.3, '#333', .8);
  label(o.x0 + 35.5, 528.7, 'low', {size: 9.5, align: 'left', color: '#333'});
  seg(o.x0 + 9, 539, o.x0 + 26.7, 539, '#ff4040', .8);
  label(o.x0 + 35.5, 539.2, 'high', {size: 9.5, align: 'left', color: '#333'});
  label(o.x0 + .7, 585.7, 'Number at risk', {size: 5.5, align: 'left'});
  label(o.x0 - 8.7, 593.3, 'low', {size: 5.5, align: 'right'});
  label(o.x0 - 8.7, 601.7, 'high', {size: 5.5, align: 'right', color: '#f00'});
}
kmPanel({x0: 399.3, x1: 618.3, y1: 549.3, xr: [-12.4, 311.2], ticks: dTicksX, low: dLow, high: dHigh, lowHeavy: 15, highHeavy: 14,
  lowCensor: dLowCensor, highCensor: dHighCensor, riskLow: dRiskLow, riskHigh: dRiskHigh, titleX: 509.3, hrX: 614, probX: 371,
  hr: 'HR = 0.72 (0.6 − 0.87)', logrank: 'logrank P = 0.00068'});
label(351, 331, 'D', {size: 19, weight: 'bold', align: 'left', color: '#000'});
kmPanel({x0: 692.3, x1: 911, y1: 550, xr: [-10.8, 296.8], ticks: eTicksX, low: eLow, high: eHigh, lowHeavy: 13, highHeavy: 11,
  lowCensor: eLowCensor, highCensor: eHighCensor, riskLow: eRiskLow, riskHigh: eRiskHigh, titleX: 801.7, hrX: 907, probX: 664.3,
  hr: 'HR = 0.78 (0.71 − 0.87)', logrank: 'logrank P = 2.1e−06'});
label(639, 331, 'E', {size: 19, weight: 'bold', align: 'left', color: '#000'});

// ---- panel F
const gF = addGrid(31.4, 662.7, 541.5, 930, '#aaa');
xAxes.push(valueAxis(gF, -2.823, 4.78, fTicksX, {margin: 7}));
yAxes.push(valueAxis(gF, -2.42, 2.55, logTicks, {rot: 90, fmt: expTick, margin: 5}));
cloud(gF, fSigCloud, 0, '235,60,235', .07);
cloud(gF, fDownTop, -1, '70,190,70', .3);
cloud(gF, fDownLow, 0, '70,190,70', .16);
cloud(gF, fUpCloud, 1, '255,40,140', .3);
dots(gF, fPaleDots, '#f0a8f0', 1.3, .5);
dots(gF, fDownDots, '#3cc03c', 1.5, .8);
dots(gF, fUpPale, '#ff4aa0', 1.3, .5);
dots(gF, fUpSmall, '#ff0a7a', 1.6, .9);
dots(gF, fUpBig, '#ff0a7a', volcSize, .85);
label(286, 953, 'logFC', {size: 5.5});
label(8, 795, '−log₁₀ P.adj', {rot: 1, size: 5});
sizeLegend(556.8, 563, 559.5, [675.7, 682.3, 688.7, 695.7], 667);
regLegend(553, 558, 570.6, [910.7, 917.3, 923.7], 902.3, ['Up', 'Down', 'UnSignificant'], ['#ff0a7a', '#1fc21f', '#e61ee6']);
label(1, 650.5, 'F', {size: 19, weight: 'bold', align: 'left', color: '#000'});

// ---- panel G
const gTop = addGrid(638.3, 664, 866.7, 699, '#bbb');
xAxes.push(valueAxis(gTop, -8.85, 8.82, null));
yAxes.push(valueAxis(gTop, -83, 1632, gTopTicks, {size: 4.5, margin: 2}));
const gMain = addGrid(638.3, 706.3, 866.7, 940, '#bbb');
xAxes.push(valueAxis(gMain, -8.85, 8.82, gTicksX, {size: 4.5, margin: 2}));
yAxes.push(valueAxis(gMain, -4.4, 4.39, gTicksY, {size: 4.5, margin: 2}));
const gSide = addGrid(873.7, 706.3, 908.7, 940, '#bbb');
xAxes.push(valueAxis(gSide, -71, 1851, gRightTicks, {size: 4.5, margin: 2, fmt: v => String(v)}));
yAxes.push(valueAxis(gSide, -4.4, 4.39, null));
series.push({type: 'custom', xAxisIndex: gTop, yAxisIndex: gTop, silent: true, data: gTopBins, z: 3,
  renderItem: (p, api) => {
    const a = api.coord([api.value(0) - .1, api.value(1)]), b = api.coord([api.value(0) + .1, 0]);
    return {type: 'rect', shape: {x: a[0], y: a[1], width: b[0] - a[0], height: b[1] - a[1]}, style: {fill: '#2d7a22', stroke: '#173f12', lineWidth: .3}};
  }});
series.push({type: 'custom', xAxisIndex: gSide, yAxisIndex: gSide, silent: true, data: gRightBins, z: 3,
  renderItem: (p, api) => {
    const a = api.coord([0, api.value(0) + .05]), b = api.coord([api.value(1), api.value(0) - .05]);
    return {type: 'rect', shape: {x: a[0], y: a[1], width: Math.max(b[0] - a[0], .8), height: b[1] - a[1]}, style: {fill: '#2a5192', stroke: '#777', lineWidth: .2}};
  }});
polygon(gMain, gMaroonArea, 'rgba(115,20,85,.82)');
polygon(gMain, gBlueArea, 'rgba(30,30,255,.88)');
polygon(gMain, gRedArea, 'rgba(255,0,0,.9)');
polygon(gMain, gBrownArea, 'rgba(160,115,40,.82)');
polygon(gMain, gOrangeLeft, '#ff8000');
polygon(gMain, gOrangeRight, '#ff8000');
polygon(gMain, gMagentaLeft, '#e010e0');
polygon(gMain, gMagentaRight, '#e010e0');
polygon(gMain, gNavyUpper, '#00007d');
polygon(gMain, gNavyLower, '#00007d');
polygon(gMain, gGreenUpper, '#00bb00');
polygon(gMain, gGreenLower, '#00bb00');
polygon(gMain, gBlackArea, '#000');
dots(gMain, gMaroon, '#7a1f5e', 2.8, .65);
dots(gMain, gBlue, '#2a2aff', 2.8, .65);
dots(gMain, gNavy, '#10108a', 2.8, .7);
dots(gMain, gGreen, '#10c010', 2.8, .7);
dots(gMain, gBrown, '#a07830', 2.8, .7);
dots(gMain, gRed, '#ff2020', 2.8, .65);
dots(gMain, gMagenta, '#e010e0', 2.8, .7);
[-.5, .5].forEach(v => {
  series.push({type: 'line', xAxisIndex: gMain, yAxisIndex: gMain, data: [[v, -4.4], [v, 4.39]], showSymbol: false, silent: true, z: 6, lineStyle: {color: '#555', width: .7, type: [1.5, 1.5]}});
  series.push({type: 'line', xAxisIndex: gMain, yAxisIndex: gMain, data: [[-8.85, v], [8.82, v]], showSymbol: false, silent: true, z: 6, lineStyle: {color: '#555', width: .7, type: [1.5, 1.5]}});
});
box(747.7, 727.3, 762, 733.3, '#fff', '#4a5fe0');
label(754.8, 730.4, 'IFNG', {size: 4, color: '#3048e0'});
label(753.7, 950.3, 'BRCA_Control', {size: 5.6});
label(621.7, 823, 'High_Low', {rot: 1, size: 5.6});
label(621.7, 680.7, 'count', {rot: 1, size: 5.2});
label(891, 950.3, 'count', {size: 5.2});
label(589, 652.7, 'G', {size: 19, weight: 'bold', align: 'left', color: '#000'});

// ---- panel H, painted purple, pink, red, blue as the overlaps in the picture show
const vennShapes = [
  {c: [261.7, 1169], a: 130.7, b: 62.3, deg: -31, fill: 'rgba(129,25,129,.5)'},
  {c: [139.5, 1169], a: 130.7, b: 62.3, deg: 31, fill: 'rgba(243,97,167,.5)'},
  {c: [200.5, 1139.2], a: 122.5, b: 43.5, deg: -34.6, fill: 'rgba(209,9,21,.5)'},
  {c: [200.5, 1139.7], a: 128.5, b: 46.8, deg: 34.2, fill: 'rgba(25,75,159,.5)'}
];
const vennLabelPos = [[50.7, 1071.7, '#f48cc0'], [139.3, 1045, '#4a6db0'], [261.3, 1045, '#e8384f'], [356.7, 1071.7, '#a050a8']];
const vennCountPos = [[70.7,1136],[139.3,1078.3],[261.3,1078.3],[330.3,1136],[123.3,1108.7],[200.3,1102.7],[277.3,1108.7],[160,1136],[241,1136],[127.3,1184.7],[200.3,1169.7],[273.3,1184.7],[170,1197],[231,1197],[200.3,1227.3]];
series.push({type: 'custom', coordinateSystem: 'none', silent: true, data: vennShapes.map((s, i) => i), z: 3,
  renderItem: (p, api) => {
    const s = vennShapes[api.value(0)], t = s.deg * Math.PI / 180, pts = [];
    for (let i = 0; i < 140; i++) {
      const u = i / 140 * 2 * Math.PI, ex = s.a * Math.cos(u), ey = s.b * Math.sin(u);
      pts.push([s.c[0] + ex * Math.cos(t) - ey * Math.sin(t), s.c[1] + ex * Math.sin(t) + ey * Math.cos(t)]);
    }
    return {type: 'polygon', shape: {points: pts}, style: {fill: s.fill, stroke: '#000', lineWidth: .9}};
  }});
vennSets.forEach((s, i) => label(vennLabelPos[i][0], vennLabelPos[i][1], s, {size: 7.4, family: serif, color: vennLabelPos[i][2]}));
vennCounts.forEach((n, i) => label(vennCountPos[i][0], vennCountPos[i][1], String(n), {size: 7.4, family: serif, color: '#222'}));
label(1, 979, 'H', {size: 19, weight: 'bold', align: 'left', color: '#000'});

// ---- panel I
const gHeat = addGrid(465.3, 1031, 908.3, 1275.7, '#888', .5, '#3e3e42');
const catAxis = (g, n, inverse) => ({type: 'category', gridIndex: g, data: Array.from({length: n}, (_, i) => i), inverse: !!inverse,
  axisLine: {show: false}, axisTick: {show: false}, axisLabel: {show: false}, splitLine: {show: false}, splitArea: {show: false}});
xAxes.push(catAxis(gHeat, 8));
yAxes.push(catAxis(gHeat, iMatrix.length, true));
const heatIndex = series.length;
series.push({type: 'heatmap', xAxisIndex: gHeat, yAxisIndex: gHeat, silent: true, progressive: 0,
  data: iMatrix.flatMap((row, r) => row.map((v, c) => [c, r, v]))});
const gAnno = addGrid(456, 1031, 463.3, 1275.7);
xAxes.push(catAxis(gAnno, 1));
yAxes.push(Object.assign(valueAxis(gAnno, 0, 48, null), {inverse: true}));
const annoColors = ['#aeaad8', '#84c8c4', '#bfbd78'];
iGroups.forEach((s, i) => series.push({type: 'bar', name: s, stack: 'anno', xAxisIndex: gAnno, yAxisIndex: gAnno, silent: true, barWidth: '100%', data: [iGroupRows[i]], itemStyle: {color: annoColors[i]}}));
label(459.7, 1020.7, 'Group', {rot: 1, size: 5});
label(669.3, 995, 'Group', {rot: 1, size: 4.5, weight: 'bold'});
box(674.3, 997.7, 680, 1003, annoColors[2]);
box(680.7, 997.7, 686, 1003, annoColors[1]);
box(686.7, 997.7, 692, 1003, annoColors[0]);
['High', 'Low', 'Control'].forEach((s, i) => {
  gfx.push({type: 'text', x: 677.2 + i * 6, y: 996.5, rotation: Math.PI / 2, z: 100, silent: true,
    style: {text: s, fill: '#444', font: '4.5px ' + sans, align: 'left', textAlign: 'left', verticalAlign: 'middle', textVerticalAlign: 'middle'}});
});
gfx.push({type: 'rect', z: 98, silent: true, shape: {x: 674, y: 1021.7, width: 32.7, height: 6.6},
  style: {fill: new echarts.graphic.LinearGradient(0, 0, 1, 0, [{offset: 0, color: '#e0d800'}, {offset: .3, color: '#6d6a28'}, {offset: .5, color: '#3a3a40'}, {offset: .72, color: '#2c4a88'}, {offset: 1, color: '#0070ff'}])}});
['20', '10', '0', '−10', '−20'].forEach((s, i) => {
  gfx.push({type: 'text', x: 675.7 + i * 7.33, y: 1020, rotation: Math.PI / 2, z: 100, silent: true,
    style: {text: s, fill: '#444', font: '4.2px ' + sans, align: 'left', textAlign: 'left', verticalAlign: 'middle', textVerticalAlign: 'middle'}});
});
gfx.push({type: 'text', x: 669.3, y: 1027, rotation: Math.PI / 2, z: 100, silent: true,
  style: {text: 'matrix_1', fill: '#222', font: 'bold 4.5px ' + sans, align: 'left', textAlign: 'left', verticalAlign: 'middle', textVerticalAlign: 'middle'}});
label(433, 979, 'I', {size: 19, weight: 'bold', align: 'left', color: '#000'});

const chart = echarts.init(document.getElementById('main'), null, {renderer: 'canvas'});
chart.setOption({
  animation: false,
  backgroundColor: '#fff',
  tooltip: {show: false},
  grid: grids,
  xAxis: xAxes,
  yAxis: yAxes,
  visualMap: [{type: 'continuous', show: false, seriesIndex: heatIndex, min: -20, max: 20,
    inRange: {color: ['#0070ff', '#3e3e42', '#e0d800']}}],
  series: series,
  graphic: {elements: gfx}
});
</script>
</body>
</html>
